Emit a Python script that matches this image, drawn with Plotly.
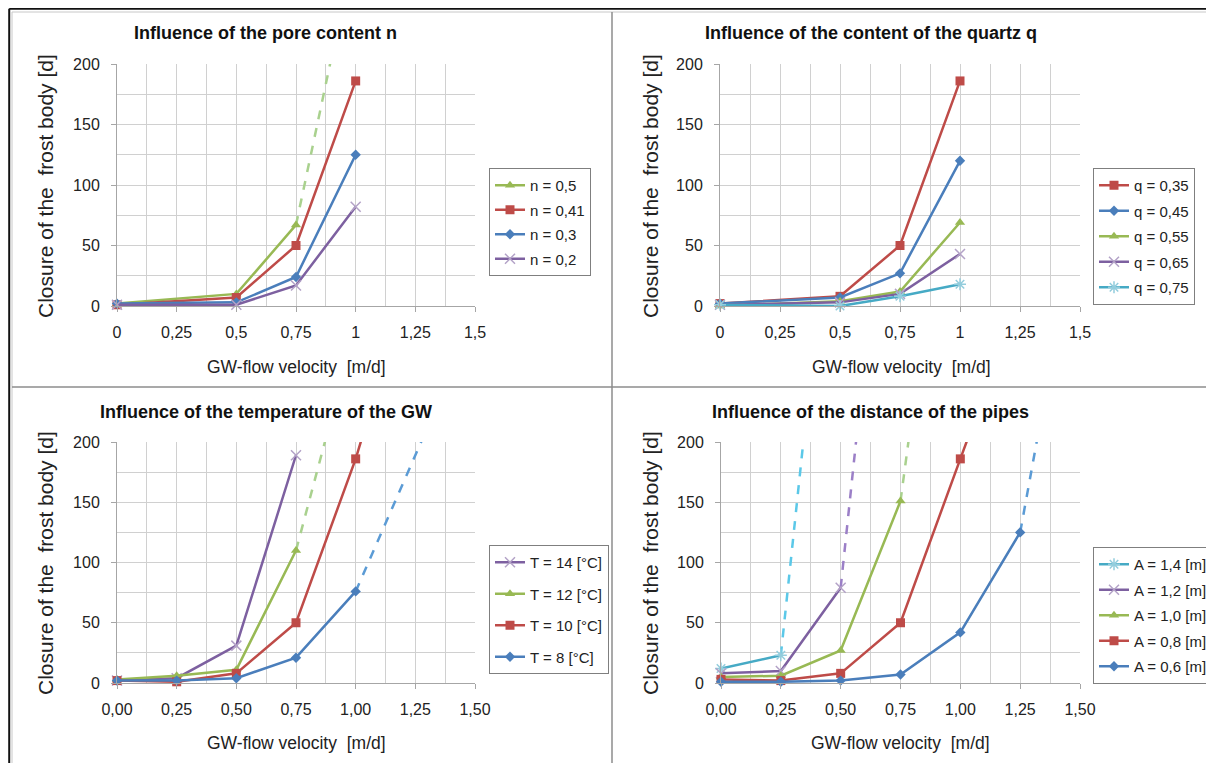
import plotly.graph_objects as go

# ---------------- data ----------------
# Panel 1: pore content n
p1_x = [0, 0.5, 0.75, 1]
n05_y = [2, 10, 67]
n05_ext_x = [0.75, 1.0]
n05_ext_y = [67, 300]
n041_y = [1, 7, 50, 186]
n03_y = [2, 3, 24, 125]
n02_y = [1, 1, 17, 82]

# Panel 2: quartz content q
p2_x = [0, 0.5, 0.75, 1]
q035_y = [2, 8, 50, 186]
q045_y = [2, 7, 27, 120]
q055_y = [0, 4, 12, 69]
q065_y = [1, 3, 10, 43]
q075_y = [1, 0, 8, 18]

# Panel 3: temperature of GW
p3_x = [0, 0.25, 0.5, 0.75, 1, 1.25]
t14_y = [2, 4, 31, 189]
t12_y = [3, 6, 11, 110]
t12_ext_x = [0.75, 1.0]
t12_ext_y = [110, 296]
t10_y = [2, 1, 8, 50, 186, 350]
t8_y = [2, 2, 4, 21, 76]
t8_ext_x = [1.0, 1.5]
t8_ext_y = [76, 302]

# Panel 4: distance of pipes
p4_x = [0, 0.25, 0.5, 0.75, 1, 1.25]
a14_y = [12, 23]
a14_ext_x = [0.25, 0.5]
a14_ext_y = [23, 494]
a12_y = [8, 10, 79]
a12_ext_x = [0.5, 0.75]
a12_ext_y = [79, 551]
a10_y = [5, 6, 27, 151]
a10_ext_x = [0.75, 1.0]
a10_ext_y = [151, 522]
a08_y = [3, 2, 8, 50, 186, 321]
a06_y = [1, 1, 2, 7, 42, 125]
a06_ext_x = [1.25, 1.5]
a06_ext_y = [125, 397]

titles = ["Influence of the pore content n",
          "Influence of the content of the quartz q",
          "Influence of the temperature of the GW",
          "Influence of the distance of the pipes"]
x_title = "GW-flow velocity  [m/d]"
y_title = "Closure of the  frost body [d]"

# ---------------- styles ----------------
BLUE, RED, GREEN, PURPLE, CYAN = "#4A7EBB", "#BE4B48", "#98B954", "#7D60A0", "#46AAC5"
LBLUE, LGREEN, LPURPLE, LCYAN = "#5B9BD5", "#A9D18E", "#9B7FC7", "#5BC8E8"
FONT = "Liberation Sans, Arial, sans-serif"

sym = {
    "tri": dict(symbol="triangle-up", size=9),
    "sq": dict(symbol="square", size=9),
    "dia": dict(symbol="diamond", size=8),
    "x": dict(symbol="x-thin-open", size=10, color="#B3A2C7", line=dict(width=1.5, color="#B3A2C7")),
    "ast": dict(symbol="asterisk-open", size=10, color="#93CDDD", line=dict(width=1.5, color="#93CDDD")),
}

W, H = 1214, 763
OFF = 8  # page body margin offset


def PX(x):
    return (x - OFF) / W


def PY(y):
    return 1 - (y - OFF) / H


fig = go.Figure()

domains = [
    ((117, 475), (64, 306)),
    ((720, 1080), (64, 306)),
    ((117, 475), (442, 683)),
    ((721, 1080), (442, 683)),
]
axes = [("x", "y"), ("x2", "y2"), ("x3", "y3"), ("x4", "y4")]
legends = ["legend", "legend2", "legend3", "legend4"]


def add(panel, x, y, name, color, mk, legend=True, dash=False):
    xa, ya = axes[panel]
    m = dict(sym[mk]) if mk else None
    if m is not None and "color" not in m:
        m["color"] = color
    fig.add_trace(go.Scatter(
        x=x, y=y, name=name, xaxis=xa, yaxis=ya,
        mode="lines" if dash else "lines+markers",
        line=dict(color=color, width=2.5, dash="dash" if dash else "solid"),
        marker=m if not dash else None,
        showlegend=legend, legend=legends[panel], legendgroup=f"{panel}-{name}",
        cliponaxis=False if not dash else True,
    ))


# panel 1
add(0, n05_ext_x, n05_ext_y, "ext", LGREEN, None, legend=False, dash=True)
add(0, p1_x[:3], n05_y, "n = 0,5", GREEN, "tri")
add(0, p1_x, n041_y, "n = 0,41", RED, "sq")
add(0, p1_x, n03_y, "n = 0,3", BLUE, "dia")
add(0, p1_x, n02_y, "n = 0,2", PURPLE, "x")
# panel 2
add(1, p2_x, q035_y, "q = 0,35", RED, "sq")
add(1, p2_x, q045_y, "q = 0,45", BLUE, "dia")
add(1, p2_x, q055_y, "q = 0,55", GREEN, "tri")
add(1, p2_x, q065_y, "q = 0,65", PURPLE, "x")
add(1, p2_x, q075_y, "q = 0,75", CYAN, "ast")
# panel 3
add(2, t12_ext_x, t12_ext_y, "ext12", LGREEN, None, legend=False, dash=True)
add(2, t8_ext_x, t8_ext_y, "ext8", LBLUE, None, legend=False, dash=True)
add(2, p3_x[:4], t14_y, "T = 14 [°C]", PURPLE, "x")
add(2, p3_x[:4], t12_y, "T = 12 [°C]", GREEN, "tri")
add(2, p3_x, t10_y, "T = 10 [°C]", RED, "sq")
add(2, p3_x[:5], t8_y, "T = 8 [°C]", BLUE, "dia")
# panel 4
add(3, a14_ext_x, a14_ext_y, "e14", LCYAN, None, legend=False, dash=True)
add(3, a12_ext_x, a12_ext_y, "e12", LPURPLE, None, legend=False, dash=True)
add(3, a10_ext_x, a10_ext_y, "e10", LGREEN, None, legend=False, dash=True)
add(3, a06_ext_x, a06_ext_y, "e06", LBLUE, None, legend=False, dash=True)
add(3, p4_x[:2], a14_y, "A = 1,4 [m]", CYAN, "ast")
add(3, p4_x[:3], a12_y, "A = 1,2 [m]", PURPLE, "x")
add(3, p4_x[:4], a10_y, "A = 1,0 [m]", GREEN, "tri")
add(3, p4_x, a08_y, "A = 0,8 [m]", RED, "sq")
add(3, p4_x, a06_y, "A = 0,6 [m]", BLUE, "dia")

GRID = "#D0D0D0"
AXC = "#A6A6A6"
layout = dict(
    width=W, height=H, margin=dict(l=0, r=0, t=0, b=0, autoexpand=False),
    paper_bgcolor="white", plot_bgcolor="white",
    separators=", ", font=dict(family=FONT, size=16, color="#222"),
    showlegend=True,
)
for i, ((x0, x1), (y0, y1)) in enumerate(domains):
    sfx = "" if i == 0 else str(i + 1)
    fmt = "" if i < 2 else ".2f"
    layout["xaxis" + sfx] = dict(
        domain=[PX(x0), PX(x1)], anchor="y" + sfx, range=[0, 1.5],
        tickmode="linear", tick0=0, dtick=0.25, tickformat=fmt,
        showgrid=True, gridcolor=GRID, gridwidth=1,
        minor=dict(dtick=0.125, showgrid=True, gridcolor=GRID, ticklen=0),
        showline=True, linecolor=AXC, linewidth=1, ticks="outside", ticklen=5, tickcolor=AXC,
        zeroline=False, ticklabelstandoff=7, tickfont=dict(size=16, color="#222"),
    )
    layout["yaxis" + sfx] = dict(
        domain=[PY(y1), PY(y0)], anchor="x" + sfx, range=[0, 200],
        tickmode="linear", tick0=0, dtick=50,
        showgrid=True, gridcolor=GRID, gridwidth=1,
        minor=dict(dtick=25, showgrid=True, gridcolor=GRID, ticklen=0),
        showline=True, linecolor=AXC, linewidth=1, ticks="outside", ticklen=5, tickcolor=AXC,
        zeroline=False, ticklabelstandoff=8, tickfont=dict(size=16, color="#222"),
    )

leg_pos = [(489, 168, 2), (1093, 168, 3), (489, 545, 9), (1093, 547, 3)]
for i, (lx, ly, gap) in enumerate(leg_pos):
    layout[legends[i]] = dict(
        x=PX(lx), y=PY(ly), xanchor="left", yanchor="top",
        bgcolor="white", bordercolor="#7F7F7F", borderwidth=1,
        font=dict(size=15, color="#222"), itemwidth=30,
        traceorder="grouped", tracegroupgap=gap,
    )
fig.update_layout(**layout)

ann = []
title_pos = [(265, 33), (871, 33), (266, 412), (871, 412)]
xt_pos = [(296, 367), (901, 367), (296, 743), (900, 743)]
yt_pos = [(45, 186), (650, 186), (45, 563), (650, 563)]
for i in range(4):
    ann.append(dict(text="<b>" + titles[i] + "</b>", x=PX(title_pos[i][0]), y=PY(title_pos[i][1]),
                    xref="paper", yref="paper", showarrow=False, font=dict(size=18, color="#111"),
                    xanchor="center", yanchor="middle"))
    ann.append(dict(text=x_title, x=PX(xt_pos[i][0]), y=PY(xt_pos[i][1]),
                    xref="paper", yref="paper", showarrow=False, font=dict(size=17.5, color="#222"),
                    xanchor="center", yanchor="middle"))
    ann.append(dict(text=y_title, x=PX(yt_pos[i][0]), y=PY(yt_pos[i][1]), textangle=-90,
                    xref="paper", yref="paper", showarrow=False, font=dict(size=21, color="#222"),
                    xanchor="center", yanchor="middle"))
fig.update_layout(annotations=ann)

shapes = [
    dict(type="line", xref="paper", yref="paper", x0=0.001, x1=0.001, y0=0, y1=0.999,
         line=dict(color="#111", width=2)),
    dict(type="line", xref="paper", yref="paper", x0=0.001, x1=1, y0=0.999, y1=0.999,
         line=dict(color="#111", width=2)),
    dict(type="line", xref="paper", yref="paper", x0=PX(12), x1=1, y0=PY(12), y1=PY(12),
         line=dict(color="#C8C8C8", width=1)),
    dict(type="line", xref="paper", yref="paper", x0=PX(12), x1=PX(12), y0=0, y1=PY(12),
         line=dict(color="#C8C8C8", width=1)),
    dict(type="line", xref="paper", yref="paper", x0=PX(612), x1=PX(612), y0=0, y1=PY(12),
         line=dict(color="#8C8C8C", width=1.5)),
    dict(type="line", xref="paper", yref="paper", x0=PX(12), x1=1, y0=PY(387), y1=PY(387),
         line=dict(color="#8C8C8C", width=1.5)),
]
fig.update_layout(shapes=shapes)

fig.write_html("out.html")
